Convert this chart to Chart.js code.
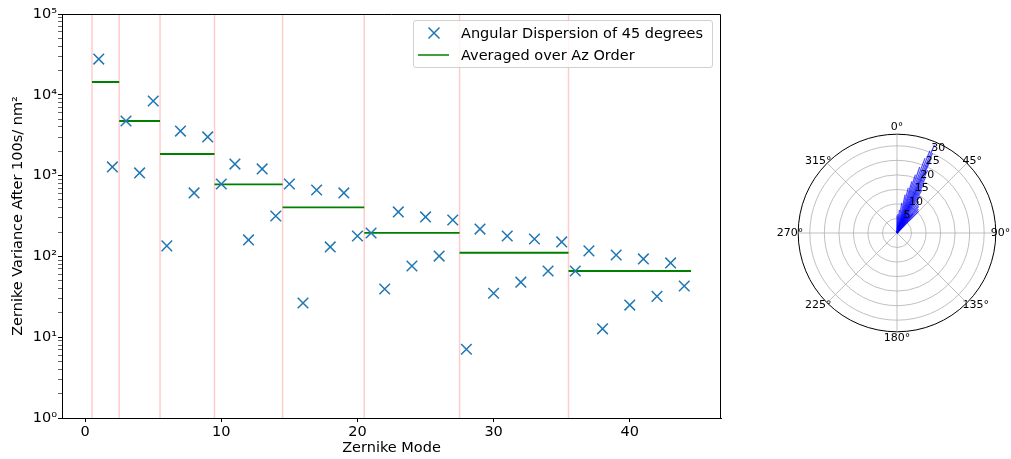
<!DOCTYPE html>
<html>
<head>
<meta charset="utf-8">
<script src="https://cdn.jsdelivr.net/npm/chart.js@4.4.1/dist/chart.umd.min.js"></script>
<style>
  html, body { margin: 0; padding: 0; background: #fff; }
  body { width: 1011px; height: 459px; position: relative; overflow: hidden; font-family: "DejaVu Sans", sans-serif; }
  #main { position: absolute; left: 0; top: 0; }
  #polar { position: absolute; left: 763px; top: 121px; }
  #legend { position: absolute; left: 413px; top: 20px; width: 298px; height: 46px; border: 1px solid #d0d0d0; border-radius: 3px; background: rgba(255,255,255,0.8); }
  .lg-mark { position: absolute; }
  .lg-text { position: absolute; font-size: 14.5px; line-height: 17px; color: #000; white-space: nowrap; }
</style>
</head>
<body>
<canvas id="main" width="1011" height="459"></canvas>
<canvas id="polar" width="268" height="224"></canvas>
<div id="legend">
  <svg class="lg-mark" style="left:4px; top:5px" width="32" height="14"><path d="M10.5 1.5 L21.5 12.5 M21.5 1.5 L10.5 12.5" stroke="#1f77b4" stroke-width="1.5" fill="none"/></svg>
  <span class="lg-text" style="left:47px; top:4px">Angular Dispersion of 45 degrees</span>
  <svg class="lg-mark" style="left:4px; top:27px" width="32" height="14"><path d="M0 7 L31 7" stroke="#008000" stroke-width="1.5" fill="none"/></svg>
  <span class="lg-text" style="left:47px; top:26px">Averaged over Az Order</span>
</div>
<script>
// zernike modes and variance
var modes = [1, 2, 3, 4, 5, 6, 7, 8, 9, 10, 11, 12, 13, 14, 15, 16, 17, 18, 19, 20, 21, 22,
  23, 24, 25, 26, 27, 28, 29, 30, 31, 32, 33, 34, 35, 36, 37, 38, 39, 40, 41, 42, 43, 44];
var variance = [27700, 1280, 4740, 1080, 8380, 135, 3560, 610, 3010, 787, 1390, 160, 1210, 316,
  787, 26.5, 664, 131, 610, 179, 195, 39.5, 355, 76, 308, 101, 282, 7.1, 218, 35, 179, 48,
  164, 66, 151, 66, 117, 12.7, 104, 25, 93, 32, 83, 43];

// radial order boundaries and the averages drawn between them
var orderEdges = [0.5, 2.5, 5.5, 9.5, 14.5, 20.5, 27.5, 35.5, 44.5];
var orderMeans = [14400, 4740, 1850, 780, 405, 195, 111, 66];

var xTicks = [0, 10, 20, 30, 40];
var yTicks = [1, 10, 100, 1000, 10000, 100000];
var yTickLabels = ["10\u2070", "10\u00b9", "10\u00b2", "10\u00b3", "10\u2074", "10\u2075"];

// polar inset
var polarLabels = ["0°", "45°", "90°", "135°", "180°", "225°", "270°", "315°"];
var radialTicks = [5, 10, 15, 20, 25, 30];
var rMax = 34;
var fanAngles = [0, 3, 6, 9, 12, 14, 16, 17.5, 19, 20.5, 21.8, 23, 24, 24.7, 26, 27.2, 28.5,
  30, 32, 34.4, 37, 39.1, 42, 45, 39.5, 35, 31];
var fanRadii = [6, 6.5, 8, 10.5, 13.5, 16, 18.5, 21, 24, 27.5, 30.5, 33, 30, 27.4, 24, 21.3, 19,
  17.2, 15, 13.2, 12.5, 11.8, 11, 10.5, 8.5, 7.5, 6.7];

Chart.defaults.font.family = "'DejaVu Sans', sans-serif";
Chart.defaults.color = "#000";

var points = [];
for (var i = 0; i < modes.length; i++) {
  points.push({ x: modes[i], y: variance[i] });
}

var meanLines = [];
for (var j = 0; j < orderMeans.length; j++) {
  meanLines.push({ x: orderEdges[j], y: orderMeans[j] });
  meanLines.push({ x: orderEdges[j + 1], y: orderMeans[j] });
  meanLines.push({ x: orderEdges[j + 1], y: null });
}

var edgeLines = [];
for (var k = 0; k < orderEdges.length - 1; k++) {
  edgeLines.push({ x: orderEdges[k], y: yTicks[0] });
  edgeLines.push({ x: orderEdges[k], y: yTicks[yTicks.length - 1] });
  edgeLines.push({ x: orderEdges[k], y: null });
}

// top and right spines (left/bottom come from the axes)
var frame = {
  id: "frame",
  afterDraw: function (chart) {
    var a = chart.chartArea, c = chart.ctx;
    c.save();
    c.strokeStyle = "#000";
    c.lineWidth = 1;
    c.beginPath();
    c.moveTo(a.left, a.top + 0.5);
    c.lineTo(a.right - 0.5, a.top + 0.5);
    c.lineTo(a.right - 0.5, a.bottom);
    c.stroke();
    c.restore();
  }
};

new Chart(document.getElementById("main"), {
  type: "scatter",
  data: {
    datasets: [
      {
        label: "Angular Dispersion of 45 degrees",
        data: points,
        pointStyle: "crossRot",
        pointRadius: 7.5,
        pointHoverRadius: 7.5,
        borderColor: "#1f77b4",
        backgroundColor: "#1f77b4",
        borderWidth: 1.5,
        showLine: false
      },
      {
        label: "Averaged over Az Order",
        data: meanLines,
        showLine: true,
        spanGaps: false,
        borderColor: "#008000",
        borderWidth: 1.8,
        pointRadius: 0
      },
      {
        label: "edges",
        data: edgeLines,
        showLine: true,
        spanGaps: false,
        borderColor: "rgba(255,0,0,0.2)",
        borderWidth: 1.5,
        pointRadius: 0
      }
    ]
  },
  options: {
    responsive: false,
    animation: false,
    layout: { padding: { top: 14, right: 290, left: 0, bottom: 0 } },
    plugins: { legend: { display: false }, tooltip: { enabled: false } },
    scales: {
      x: {
        type: "linear",
        min: -1.7,
        max: 46.7,
        afterBuildTicks: function (axis) {
          axis.ticks = xTicks.map(function (v) { return { value: v }; });
        },
        afterFit: function (s) { s.height = 41; },
        ticks: { font: { size: 14.5 }, padding: 2, maxRotation: 0 },
        grid: { drawOnChartArea: false, tickLength: 4, tickColor: "#000" },
        border: { color: "#000" },
        title: { display: true, text: "Zernike Mode", font: { size: 14.5 }, padding: { top: 0, bottom: 2.3 } }
      },
      y: {
        type: "logarithmic",
        min: yTicks[0],
        max: yTicks[yTicks.length - 1],
        afterBuildTicks: function (axis) {
          var t = [];
          for (var d = 0; d < yTicks.length; d++) {
            t.push({ value: yTicks[d], major: true });
            if (d < yTicks.length - 1) {
              for (var m = 2; m < 10; m++) t.push({ value: m * yTicks[d] });
            }
          }
          axis.ticks = t;
        },
        afterFit: function (s) { s.width = 62; },
        ticks: {
          autoSkip: false,
          font: { size: 14.5 },
          padding: 1,
          callback: function (v) {
            var idx = yTicks.indexOf(v);
            return idx >= 0 ? yTickLabels[idx] : "";
          }
        },
        grid: {
          drawOnChartArea: false,
          tickLength: 4,
          tickColor: "#000",
          tickWidth: function (ctx) {
            return ctx.tick && yTicks.indexOf(ctx.tick.value) >= 0 ? 1 : 0.6;
          }
        },
        border: { color: "#000" },
        title: { display: true, text: "Zernike Variance After 100s/ nm²", font: { size: 14.5 }, padding: { top: 9.3, bottom: 0 } }
      }
    }
  },
  plugins: [frame]
});

// fan of dispersion directions plus radial tick labels at 22.5 deg
var fan = {
  id: "fan",
  afterDatasetsDraw: function (chart) {
    var r = chart.scales.r, c = chart.ctx;
    var step = 360 / polarLabels.length;
    c.save();
    c.strokeStyle = "rgba(0,0,255,0.7)";
    c.lineWidth = 1.2;
    for (var i = 0; i < fanAngles.length; i++) {
      var p = r.getPointPositionForValue(fanAngles[i] / step, fanRadii[i]);
      c.beginPath();
      c.moveTo(r.xCenter, r.yCenter);
      c.lineTo(p.x, p.y);
      c.stroke();
    }
    c.fillStyle = "#000";
    c.font = "11px 'DejaVu Sans'";
    c.textAlign = "left";
    c.textBaseline = "bottom";
    for (var t = 0; t < radialTicks.length; t++) {
      var q = r.getPointPositionForValue(22.5 / step, radialTicks[t]);
      c.fillText(String(radialTicks[t]), q.x + 1, q.y + 1);
    }
    c.restore();
  }
};

new Chart(document.getElementById("polar"), {
  type: "radar",
  data: { labels: polarLabels, datasets: [] },
  options: {
    responsive: false,
    animation: false,
    layout: { padding: 0 },
    plugins: { legend: { display: false }, tooltip: { enabled: false } },
    scales: {
      r: {
        min: 0,
        max: rMax,
        afterBuildTicks: function (axis) {
          axis.ticks = [0].concat(radialTicks).concat([rMax]).map(function (v) { return { value: v }; });
        },
        ticks: { display: false },
        grid: {
          circular: true,
          color: function (ctx) { return ctx.tick && ctx.tick.value === rMax ? "#000" : "#b0b0b0"; },
          lineWidth: function (ctx) { return ctx.tick && ctx.tick.value === rMax ? 1 : 0.8; }
        },
        angleLines: { color: "#b0b0b0", lineWidth: 0.8 },
        pointLabels: {
          font: { size: 11 },
          color: "#000",
          // matplotlib tucks the side and diagonal labels in against the rim
          padding: function (ctx) {
            if (ctx.index % 4 === 0) return 0;
            if (ctx.index % 2 === 0) return -5;
            return -6;
          }
        }
      }
    }
  },
  plugins: [fan]
});
</script>
</body>
</html>
